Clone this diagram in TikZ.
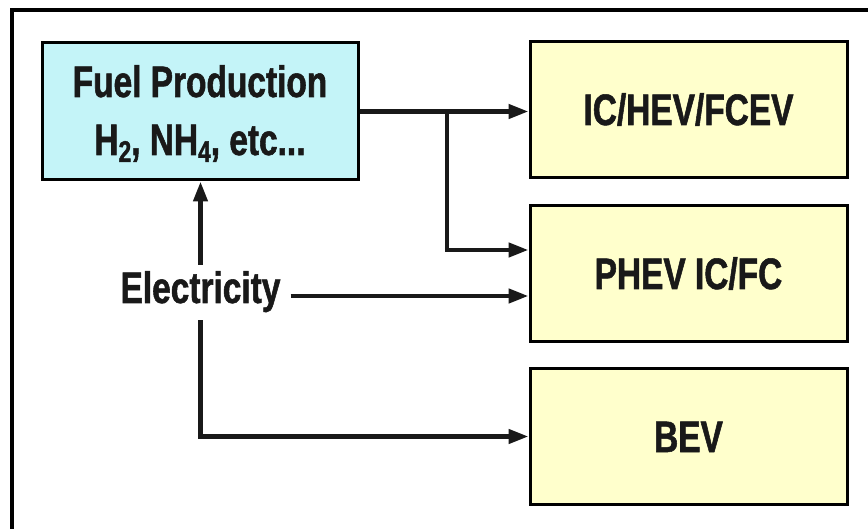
\documentclass[tikz,border=0pt]{standalone}
\usepackage{fontspec}
\setmainfont{Liberation Sans}[FakeStretch=0.76, BoldFeatures={FakeStretch=0.76, FakeBold=1.2}]
\usetikzlibrary{arrows.meta,calc}
\definecolor{fuelfill}{HTML}{C4F4F8}
\definecolor{vehfill}{HTML}{FFFFCC}
\newcommand{\mysub}[1]{\raisebox{-7pt}{\fontsize{30}{30}\selectfont #1}}
\tikzset{
  fuelbox/.style={draw=black, line width=3pt, fill=fuelfill, minimum width=316pt, minimum height=137pt, inner sep=0pt},
  fueltext/.style={inner sep=0pt, align=center, text=black!90, font=\fontsize{44}{61}\selectfont\bfseries},
  vehbox/.style={draw=black, line width=3pt, fill=vehfill, minimum width=317pt, minimum height=136pt, inner sep=0pt, text height=31pt, text depth=0pt, text=black!90, font=\fontsize{44}{52}\selectfont\bfseries},
  elecnode/.style={inner xsep=10pt, inner ysep=7pt, text height=31pt, text depth=10pt, text=black!90, font=\fontsize{44}{52}\selectfont\bfseries},
  flow/.style={line width=4.5pt, draw=black!90, -{Triangle[length=20pt,width=14pt]}},
  plainline/.style={line width=4.5pt, draw=black!90},
  frameline/.style={line width=4.5pt}
}
\begin{document}
\begin{tikzpicture}[x=1pt,y=-1pt]
\useasboundingbox (0,0) rectangle (868,529);
\clip (0,0) rectangle (868,529);
\fill[white] (0,0) rectangle (868,529);
\draw[frameline] (12,10) rectangle (900,560);
\node[fuelbox] (fuel) at (200,111.5) {};
\node[fueltext, anchor=base] (fuel1) at (200,97) {Fuel Production};
\node[fueltext, anchor=base] (fuel2) at (200,155) {H\mysub{2}, NH\mysub{4}, etc...};
\node[vehbox] (ic) at (688.5,109.5) {IC/HEV/FCEV};
\node[vehbox] (phev) at (688.5,273.5) {PHEV IC/FC};
\node[vehbox] (bev) at (688.5,436.5) {BEV};
\node[elecnode] (elec) at (200.5,292.5) {Electricity};
\coordinate (br) at (447,250);
\draw[flow] (fuel.east) -- (fuel.east -| ic.west);
\draw[plainline] (br |- fuel.east) -- (br);
\draw[flow] ([xshift=-2.25pt]br) -- (br -| phev.west);
\draw[flow] ([yshift=-3.5pt]elec.east) -- ([yshift=-3.5pt]elec.east -| phev.west);
\draw[flow] (elec.north) -- (elec.north |- fuel.south);
\draw[flow] (elec.south) |- (bev.west);
\end{tikzpicture}
\end{document}
